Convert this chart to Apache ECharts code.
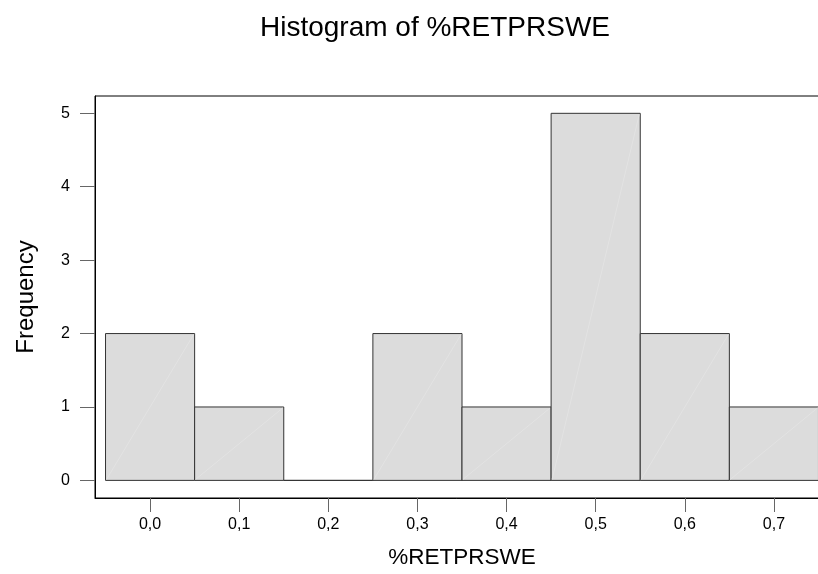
<!DOCTYPE html>
<html>
<head>
<meta charset="utf-8">
<script src="https://cdn.jsdelivr.net/npm/echarts@6/dist/echarts.min.js"></script>
<style>html,body{margin:0;padding:0;background:#fff}#c{width:818px;height:574px}</style>
</head>
<body>
<div id="c"></div>
<script>
const binStarts = [-0.05, 0.05, 0.15, 0.25, 0.35, 0.45, 0.55, 0.65];
const binWidth = 0.1;
const frequencies = [2, 1, 0, 2, 1, 5, 2, 1];
const xTicks = [0, 0.1, 0.2, 0.3, 0.4, 0.5, 0.6, 0.7];
const yTicks = [0, 1, 2, 3, 4, 5];

const data = binStarts.map((s, i) => [s, s + binWidth, frequencies[i]]);
const FONT = 'Liberation Sans, Arial, sans-serif';

const chart = echarts.init(document.getElementById('c'), null, {renderer: 'canvas'});
chart.setOption({
  animation: false,
  backgroundColor: '#ffffff',
  title: {
    text: 'Histogram of %RETPRSWE',
    left: 430, top: 9, textAlign: 'center',
    textStyle: {fontFamily: FONT, fontSize: 28, fontWeight: 'normal', color: '#000'}
  },
  grid: {left: 95, right: -11, top: 96, bottom: 76, outerBoundsMode: 'none', containLabel: false,
    show: true, borderColor: '#000', borderWidth: 1, backgroundColor: 'transparent'},
  xAxis: {
    type: 'value', min: -0.0618, max: 0.7618,
    name: '%RETPRSWE', nameLocation: 'middle', nameGap: 48,
    nameTextStyle: {fontFamily: FONT, fontSize: 22.5, color: '#000'},
    axisLine: {show: true, onZero: false, lineStyle: {color: '#000', width: 1}},
    axisTick: {show: true, length: 14, lineStyle: {color: '#666'}, customValues: xTicks},
    axisLabel: {fontFamily: FONT, fontSize: 16, color: '#000', margin: 19, customValues: xTicks,
      formatter: v => v.toFixed(1).replace('.', ',')},
    splitLine: {show: false}
  },
  yAxis: {
    type: 'value', min: -0.24, max: 5.236,
    name: 'Frequency', nameLocation: 'middle', nameGap: 57,
    nameTextStyle: {fontFamily: FONT, fontSize: 24, color: '#000'},
    axisLine: {show: true, onZero: false, lineStyle: {color: '#000', width: 1}},
    axisTick: {show: true, length: 15, lineStyle: {color: '#666'}, customValues: yTicks},
    axisLabel: {fontFamily: FONT, fontSize: 16, color: '#000', margin: 25, customValues: yTicks,
      formatter: v => String(v)},
    splitLine: {show: false}
  },
  series: [{
    type: 'custom',
    data: data,
    encode: {x: [0, 1], y: 2},
    clip: false,
    renderItem: function (params, api) {
      const p0 = api.coord([api.value(0), 0]);
      const p1 = api.coord([api.value(1), api.value(2)]);
      const x = p0[0], y = p1[1], w = p1[0] - p0[0], h = p0[1] - p1[1];
      const children = [
        {type: 'rect', shape: {x: x, y: y, width: w, height: h},
          style: {fill: '#dcdcdc', stroke: '#333', lineWidth: 1}}
      ];
      if (h > 2) {
        children.push({type: 'line', shape: {x1: x + 1, y1: p0[1] - 1, x2: x + w - 1, y2: y + 1},
          style: {stroke: '#e3e3e3', lineWidth: 1}, silent: true});
      }
      return {type: 'group', children: children};
    }
  }]
});
</script>
</body>
</html>
